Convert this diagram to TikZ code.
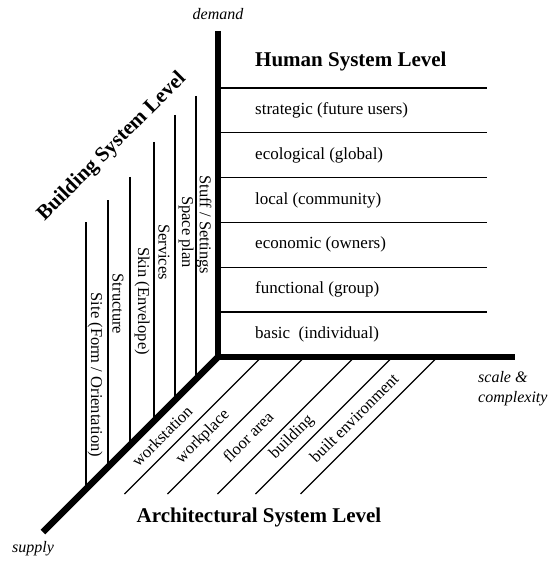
\documentclass[tikz,border=0pt]{standalone}
\usepackage{fontspec}
\setmainfont{Liberation Serif}
\usepackage{tikz}
\tikzstyle{mainaxis} = [line width=6.5pt, line join=miter]
\tikzstyle{thinline} = [line width=1.3pt]
\tikzstyle{leveltitle} = [inner sep=0pt, font=\fontsize{21}{25}\selectfont\bfseries]
\tikzstyle{rowtext} = [inner sep=0pt, font=\fontsize{17}{20}\selectfont]
\tikzstyle{systext} = [inner sep=0pt, font=\fontsize{16.5}{20}\selectfont]
\tikzstyle{axistext} = [inner sep=0pt, align=left, font=\fontsize{16}{20}\selectfont\itshape]

\begin{document}
\begin{tikzpicture}[x=1pt, y=-1pt]
        \useasboundingbox (0,0) rectangle (549,561);
        \coordinate (origin) at (218,357);
        \coordinate (demandend) at (218,31);
        \coordinate (scaleend) at (515,357);
        \coordinate (supplyend) at (43,532);

        % human system level
        \foreach \i in {0,...,5}
            \draw [thinline] (218,{88+44.8*\i}) -- (487,{88+44.8*\i});
        \foreach \txt [count=\i from 0] in {strategic (future users), ecological (global), local (community), economic (owners), functional (group), basic~ (individual)}
            \node (row\i) [rowtext, anchor=west] at (255,{110.4+44.8*\i}) {\txt};
        \node (human) [leveltitle, anchor=base west] at (255,67) {Human System Level};

        % building system level
        \foreach \x/\t in {86/222, 108/200, 130/177, 154/142, 175/115, 196/96}
            \draw [thinline] (\x,\t) -- (\x,{575-\x});
        \foreach \x/\y/\txt [count=\i] in {204/225/{Stuff / Settings}, 186/232/{Space plan}, 164/252/{Services}, 142/301/{Skin (Envelope)}, 118/304/{Structure}, 95/375/{Site (Form / Orientation)}}
            \node (bsys\i) [systext, rotate=-90] at (\x,\y) {\txt};
        \node (building) [leveltitle, rotate=45] at (112,147) {Building System Level};

        % architectural system level
        \foreach \x in {261.5, 304.5, 354.5, 392.5, 437.5}
            \draw [thinline] (\x,357) -- ({\x-137},494);
        \foreach \x/\y/\txt [count=\i] in {162/436/workstation, 203/437/workplace, 248/437/floor area, 292/437/building, 354/418/built environment}
            \node (asys\i) [systext, rotate=45] at (\x,\y) {\txt};
        \node (archi) [leveltitle, anchor=base] at (259,522) {Architectural System Level};

        % axes
        \draw [mainaxis] (demandend) -- (origin) -- (scaleend);
        \draw [mainaxis] (origin) -- (supplyend);
        \node (demand) [axistext, anchor=base] at (218,20) {demand};
        \node (supply) [axistext, anchor=base] at (33,552) {supply};
        \node (scale) [axistext, anchor=north west] at (478,371) {scale \&\\complexity};
    \end{tikzpicture}
\end{document}
